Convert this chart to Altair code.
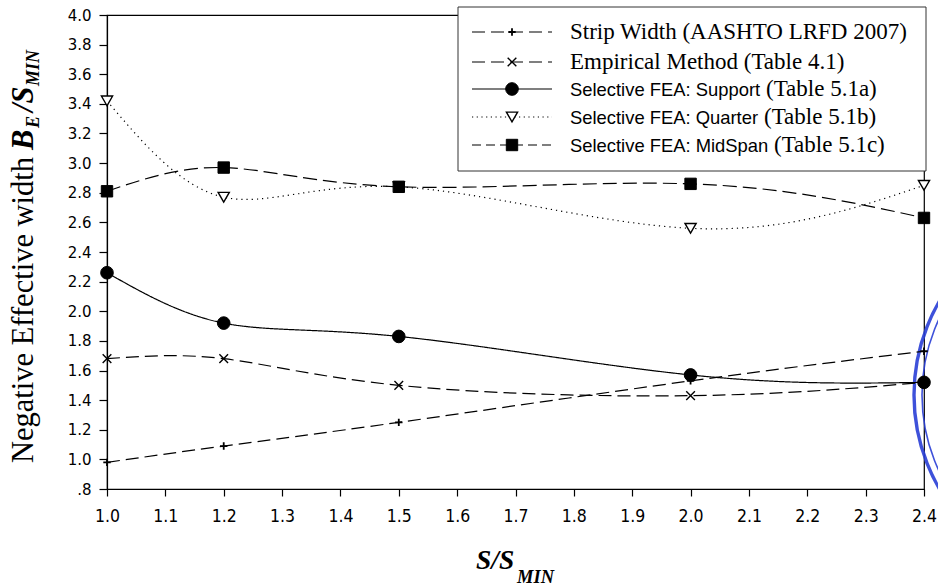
import altair as alt
import pandas as pd

# Span ratio S/S_MIN at which every method was evaluated
s_ratio = [1.0, 1.2, 1.5, 2.0, 2.4]

# Normalised negative effective width B_E / S_MIN
strip_width = [0.98, 1.09, 1.25, 1.53, 1.73]
empirical = [1.68, 1.68, 1.50, 1.43, 1.52]
fea_support = [2.26, 1.92, 1.83, 1.57, 1.52]
fea_quarter = [3.42, 2.77, 2.84, 2.56, 2.85]
fea_midspan = [2.81, 2.97, 2.84, 2.86, 2.63]

x_ticks = [1.0, 1.1, 1.2, 1.3, 1.4, 1.5, 1.6, 1.7, 1.8, 1.9, 2.0, 2.1, 2.2, 2.3, 2.4]
y_ticks = [0.8, 1.0, 1.2, 1.4, 1.6, 1.8, 2.0, 2.2, 2.4, 2.6, 2.8, 3.0, 3.2, 3.4, 3.6, 3.8, 4.0]

legend_main = [
    "Strip Width (AASHTO LRFD 2007)",
    "Empirical Method (Table 4.1)",
    "Selective FEA: Support",
    "Selective FEA: Quarter",
    "Selective FEA: MidSpan",
]
legend_suffix = ["", "", "(Table 5.1a)", "(Table 5.1b)", "(Table 5.1c)"]

SERIF = "Liberation Serif"
SANS = "Liberation Sans"
PLUS = "M-1,0L1,0M0,-1L0,1"
CROSS = "M-1,-1L1,1M-1,1L1,-1"

styles = [
    dict(values=strip_width, dash=[13, 6], ldash=[13, 6], shape=PLUS, size=55,
         filled=False, fill="black", sw=1.8, font=SERIF, fsize=23),
    dict(values=empirical, dash=[13, 6], ldash=[13, 6], shape=CROSS, size=75,
         filled=False, fill="black", sw=1.4, font=SERIF, fsize=23),
    dict(values=fea_support, dash=[1, 0], ldash=[1, 0], shape="circle", size=160,
         filled=True, fill="black", sw=1, font=SANS, fsize=18.4),
    dict(values=fea_quarter, dash=[1.2, 4], ldash=[1.2, 3.5], shape="triangle-down", size=125,
         filled=True, fill="white", sw=1.4, font=SANS, fsize=18.4),
    dict(values=fea_midspan, dash=[14, 6], ldash=[9, 5], shape="square", size=130,
         filled=True, fill="black", sw=1, font=SANS, fsize=18.4),
]

W, H = 817, 474

x_enc = alt.X(
    "ratio:Q",
    scale=alt.Scale(domain=[1.0, 2.4], nice=False, zero=False),
    axis=alt.Axis(values=x_ticks, format=".1f", title=None, grid=False, tickSize=7,
                  labelPadding=11, labelFont="Liberation Sans Narrow, DejaVu Sans Condensed, sans-serif",
                  labelFontSize=17.5, labelFlush=False, labelOverlap=False),
)
y_enc = alt.Y(
    "value:Q",
    scale=alt.Scale(domain=[0.8, 4.0], nice=False, zero=False),
    axis=alt.Axis(values=y_ticks, title=None, grid=False, tickSize=8, labelPadding=8,
                  labelFont="DejaVu Sans", labelFontSize=15, labelOverlap=False, labelFlush=False,
                  labelExpr="datum.value < 0.9 ? '.8' : format(datum.value, '.1f')"),
)

one = pd.DataFrame({"k": [0]})
layers = []

# Blue seal ring at the right edge
for radius, width in [(186, 3.4), (178, 1.6)]:
    layers.append(
        alt.Chart(one).mark_point(shape="circle", filled=False, color="#2a3fd6",
                                  strokeWidth=width, size=(2 * radius) ** 2, opacity=0.9)
        .encode(x=alt.value(993), y=alt.value(380))
    )

# Curves and markers
for st in styles:
    df = pd.DataFrame({"ratio": s_ratio, "value": st["values"]})
    base = alt.Chart(df).encode(x=x_enc, y=y_enc)
    layers.append(base.mark_line(interpolate="natural", color="black", strokeWidth=1.2,
                                 strokeDash=st["dash"]))
for st in styles:
    df = pd.DataFrame({"ratio": s_ratio, "value": st["values"]})
    base = alt.Chart(df).encode(x=x_enc, y=y_enc)
    layers.append(base.mark_point(shape=st["shape"], size=st["size"], filled=st["filled"],
                                  fill=st["fill"], stroke="black", strokeWidth=st["sw"],
                                  opacity=1, fillOpacity=1))

# Legend frame
layers.append(
    alt.Chart(one).mark_rect(fill="white", stroke="#333333", strokeWidth=1)
    .encode(x=alt.value(351), x2=alt.value(819), y=alt.value(-8), y2=alt.value(156))
)

row_y = [17, 47, 74, 102, 130]
suffix_x = [0, 0, 659, 657, 667]
for i, st in enumerate(styles):
    ry = row_y[i]
    layers.append(
        alt.Chart(one).mark_rule(color="black", strokeWidth=1.2, strokeDash=st["ldash"])
        .encode(x=alt.value(365), x2=alt.value(445), y=alt.value(ry))
    )
    layers.append(
        alt.Chart(one).mark_point(shape=st["shape"], size=st["size"], filled=st["filled"],
                                  fill=st["fill"], stroke="black", strokeWidth=st["sw"],
                                  opacity=1, fillOpacity=1)
        .encode(x=alt.value(405), y=alt.value(ry))
    )
    layers.append(
        alt.Chart(one).mark_text(text=legend_main[i], font=st["font"], fontSize=st["fsize"],
                                 align="left", baseline="alphabetic", color="black")
        .encode(x=alt.value(463), y=alt.value(ry + 7))
    )
    if legend_suffix[i]:
        layers.append(
            alt.Chart(one).mark_text(text=legend_suffix[i], font=SERIF, fontSize=23,
                                     align="left", baseline="alphabetic", color="black")
            .encode(x=alt.value(suffix_x[i]), y=alt.value(ry + 7))
        )

# Y-axis title with subscripts
y_title_parts = [
    ("Negative Effective width", "normal", "normal", 30.5, -74, 448),
    ("B", "bold", "italic", 30.5, -74, 135),
    ("E", "bold", "italic", 18, -68, 113),
    ("/S", "bold", "italic", 30.5, -74, 97),
    ("MIN", "bold", "italic", 18, -68, 71),
]
for txt, fw, fs, size, px, py in y_title_parts:
    layers.append(
        alt.Chart(one).mark_text(text=txt, font=SERIF, fontWeight=fw, fontStyle=fs, fontSize=size,
                                 angle=270, align="left", baseline="alphabetic", color="black")
        .encode(x=alt.value(px), y=alt.value(py))
    )

# X-axis title with subscript
x_title_parts = [
    ("S/S", 27.5, 369, 554),
    ("MIN", 18.5, 410, 568),
]
for txt, size, px, py in x_title_parts:
    layers.append(
        alt.Chart(one).mark_text(text=txt, font=SERIF, fontWeight="bold", fontStyle="italic",
                                 fontSize=size, align="left", baseline="alphabetic", color="black")
        .encode(x=alt.value(px), y=alt.value(py))
    )

chart = (
    alt.layer(*layers)
    .properties(
        width=W,
        height=H,
        autosize=alt.AutoSizeParams(type="none"),
        padding={"left": 107, "top": 15, "right": 14, "bottom": 99},
        background="white",
    )
    .configure_view(stroke="black", strokeWidth=1.2)
    .configure_axis(domainColor="black", tickColor="black", labelColor="black",
                    domainWidth=1.2, tickWidth=1.2)
)

chart.save("out.html", embed_options={"renderer": "svg", "actions": False})
